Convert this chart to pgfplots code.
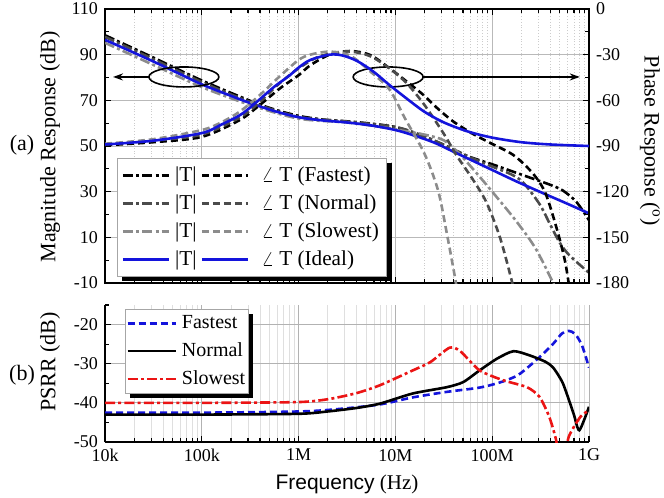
\documentclass[border=0pt]{standalone}
\usepackage{pgfplots}
\pgfplotsset{compat=1.18}
\usepackage{fontspec}
\setmainfont{Liberation Serif}
\newfontfamily\sansfam{Liberation Sans}
\usetikzlibrary{arrows.meta}
\definecolor{myblue}{RGB}{20,20,220}
\definecolor{dgray}{RGB}{75,75,75}
\definecolor{lgray}{RGB}{140,140,140}
\definecolor{myred}{RGB}{235,20,20}
\tikzset{
  dd/.style={dash pattern=on 5pt off 1.6pt on 1.5pt off 1.6pt},
  ds/.style={dash pattern=on 3.5pt off 2pt},
}
\pgfplotsset{
  legend image code/.code={\draw[#1] (0pt,0pt) -- (23pt,0pt);},
}
\begin{document}
\begin{tikzpicture}
% ---------------- top: magnitude (left axis)
\begin{axis}[
  xmode=log, xmin=1e4, xmax=1e9,
  scale only axis, width=242pt, height=137pt,
  at={(52.5pt,-141.5pt)}, anchor=south west,
  tick align=inside, major tick length=3pt, minor tick length=1.8pt,
  every tick/.style={black, line width=0.6pt},
  axis line style={line width=0.8pt},
  tick label style={font=\fontsize{9}{10}\selectfont},
  xtick={1e4,1e5,1e6,1e7,1e8,1e9},
  minor xtick={2e4,3e4,4e4,5e4,6e4,7e4,8e4,9e4,2e5,3e5,4e5,5e5,6e5,7e5,8e5,9e5,2e6,3e6,4e6,5e6,6e6,7e6,8e6,9e6,2e7,3e7,4e7,5e7,6e7,7e7,8e7,9e7,2e8,3e8,4e8,5e8,6e8,7e8,8e8,9e8},
  ymin=-10, ymax=110,
  xticklabels={},
  ytick={-10,10,30,50,70,90,110}, minor ytick={0,20,40,60,80,100},
  ytick pos=left,
  xmajorgrids, ymajorgrids, xminorgrids,
  major grid style={gray!55, line width=0.5pt},
  minor grid style={gray!40, line width=0.4pt, densely dotted},
  /pgf/number format/assume math mode=true,
]
\addplot[black, line width=1.3pt, dd, smooth, tension=0.5] coordinates {
(1e4,98.5) (3.162e4,88.7) (1e5,78.7) (3.162e5,69.8) (5.623e5,66) (1e6,63.2) (1.778e6,61.6) (3.162e6,60.8) (5.623e6,59.8) (1e7,58.3) (1.778e7,55) (3.162e7,50.5) (5.623e7,45.5) (1e8,42) (1.585e8,39) (2.512e8,36) (3.981e8,33) (5.370e8,30.5) (7.413e8,25.5) (1e9,17.5)};
\addplot[dgray, line width=1.3pt, dd, smooth, tension=0.5] coordinates {
(1e4,97.8) (3.162e4,88) (1e5,78) (3.162e5,69.3) (1e6,62.8) (3.162e6,60.7) (1e7,58.3) (1.778e7,55) (3.162e7,50.5) (5.623e7,45.5) (1e8,41) (1.585e8,37.5) (2.089e8,34) (3.090e8,24.5) (3.981e8,15.5) (5.012e8,7.5) (6.310e8,2) (1e9,-5.5)};
\addplot[lgray, line width=1.3pt, dd, smooth, tension=0.5] coordinates {
(1e4,95.2) (3.162e4,85.5) (1e5,75.8) (3.162e5,68) (1e6,62) (3.162e6,60.3) (7.943e6,58) (1.259e7,56.5) (1.995e7,55) (3.162e7,52.5) (4.467e7,47) (6.310e7,40) (1e8,30) (1.778e8,17) (2.818e8,5) (4.266e8,-10) (4.467e8,-12)};
\addplot[myblue, line width=1.3pt, smooth, tension=0.5] coordinates {
(1e4,96.5) (1.778e4,91.8) (3.162e4,87) (5.623e4,82) (1e5,77) (1.778e5,72.8) (3.162e5,68.8) (5.623e5,65.3) (1e6,62.6) (1.778e6,61.2) (3.162e6,60.3) (5.623e6,59) (1e7,57) (1.585e7,54.5) (2.512e7,51.5) (3.981e7,47.5) (6.310e7,43.5) (1e8,39.5) (1.778e8,34.5) (3.162e8,29.8) (5.623e8,25.2) (1e9,20.5)};
% annotations
\draw[line width=0.8pt] (rel axis cs:0.163,0.752) circle [x radius=17.5pt, y radius=5pt];
\draw[line width=0.8pt, -{Stealth[length=5pt,width=3.5pt]}] (rel axis cs:0.091,0.752) -- (rel axis cs:0.0165,0.752);
\draw[line width=0.8pt] (rel axis cs:0.585,0.752) circle [x radius=17.5pt, y radius=5pt];
\draw[line width=0.8pt, -{Stealth[length=5pt,width=3.5pt]}] (rel axis cs:0.657,0.752) -- (rel axis cs:0.981,0.752);
\end{axis}
% ---------------- top: phase (right axis)
\begin{axis}[
  xmode=log, xmin=1e4, xmax=1e9,
  scale only axis, width=242pt, height=137pt,
  at={(52.5pt,-141.5pt)}, anchor=south west,
  tick align=inside, major tick length=3pt, minor tick length=1.8pt,
  every tick/.style={black, line width=0.6pt},
  axis line style={line width=0.8pt},
  tick label style={font=\fontsize{9}{10}\selectfont},
  ymin=-180, ymax=0,
  axis x line=none, axis y line*=right,
  ytick={-180,-150,-120,-90,-60,-30,0}, minor ytick={-165,-135,-105,-75,-45,-15},
  legend columns=2,
  legend cell align=left,
  legend style={at={(0.025,0.456)}, anchor=north west, name=legA,
    draw=gray!70, line width=0.5pt, fill=white,
    font=\fontsize{10.6}{11}\selectfont,
    inner xsep=2pt, inner ysep=2pt, row sep=1.2pt,
    /tikz/every odd column/.append style={column sep=0.5pt},
    /tikz/every even column/.append style={column sep=0pt}},
  /pgf/number format/assume math mode=true,
]
\addplot[forget plot, black, line width=1.3pt, ds, smooth, tension=0.5] coordinates {
(1e4,-89.5) (3.162e4,-87.5) (1e5,-84) (2.455e5,-73) (3.981e5,-63) (6.457e5,-52) (1e6,-43.5) (1.318e6,-37) (2.089e6,-30) (3.388e6,-27.6) (5.495e6,-30.2) (8.710e6,-39) (1.318e7,-47.8) (1.950e7,-56.5) (2.692e7,-65) (3.981e7,-74) (6.310e7,-82) (9.550e7,-88) (1.660e8,-96) (2.630e8,-108) (3.548e8,-121) (4.677e8,-145) (5.623e8,-165) (6.166e8,-180) (6.310e8,-185)};
\addplot[forget plot, dgray, line width=1.3pt, ds, smooth, tension=0.5] coordinates {
(1e4,-89) (3.162e4,-86.5) (1e5,-82.5) (2.512e5,-71) (3.981e5,-61) (6.310e5,-49) (1e6,-39) (1.585e6,-31.5) (2.512e6,-28.5) (3.548e6,-28) (5.495e6,-31) (8.710e6,-39) (1.318e7,-49) (1.995e7,-63) (3.162e7,-82) (4.266e7,-96) (6.310e7,-112) (8.710e7,-127) (1.202e8,-150) (1.585e8,-178) (1.660e8,-184)};
\addplot[forget plot, lgray, line width=1.3pt, ds, smooth, tension=0.5] coordinates {
(1e4,-88.5) (3.162e4,-85.5) (1e5,-79.5) (1.585e5,-74.5) (2.455e5,-67.5) (3.981e5,-56.5) (6.310e5,-44.5) (1e6,-33.5) (1.318e6,-30) (2.089e6,-28) (3.388e6,-30.5) (5.495e6,-41) (8.710e6,-53) (1.259e7,-72) (1.995e7,-95) (2.754e7,-119) (3.388e7,-147) (4.169e7,-178) (4.266e7,-184)};
\addplot[forget plot, myblue, line width=1.3pt, smooth, tension=0.5] coordinates {
(1e4,-89) (3.162e4,-86.5) (1e5,-81.5) (1.585e5,-76) (2.512e5,-69.5) (3.548e5,-62) (5.623e5,-51) (7.943e5,-44) (1e6,-38.5) (1.318e6,-33.5) (2.089e6,-30) (2.818e6,-30.5) (3.981e6,-34) (5.888e6,-41) (8.710e6,-50) (1.318e7,-59) (1.995e7,-67.5) (3.162e7,-74.5) (5.623e7,-80.5) (1e8,-84.5) (1.995e8,-87.5) (3.981e8,-89) (1e9,-90)};
\addlegendimage{black, line width=1.3pt, dd}
\addlegendentry{|T|}
\addlegendimage{black, line width=1.3pt, ds}
\addlegendentry{\,\,$\angle$ T (Fastest)}
\addlegendimage{dgray, line width=1.3pt, dd}
\addlegendentry{|T|}
\addlegendimage{dgray, line width=1.3pt, ds}
\addlegendentry{\,\,$\angle$ T (Normal)}
\addlegendimage{lgray, line width=1.3pt, dd}
\addlegendentry{|T|}
\addlegendimage{lgray, line width=1.3pt, ds}
\addlegendentry{\,\,$\angle$ T (Slowest)}
\addlegendimage{myblue, line width=1.3pt}
\addlegendentry{|T|}
\addlegendimage{myblue, line width=1.3pt}
\addlegendentry{\,\,$\angle$ T (Ideal)}
\end{axis}
\draw[black, line width=2.2pt] ([xshift=2.5pt,yshift=-1.1pt]legA.south west) -- ([xshift=1.1pt,yshift=-1.1pt]legA.south east) -- ([xshift=1.1pt,yshift=-2.5pt]legA.north east);
% ---------------- bottom: PSRR
\begin{axis}[
  xmode=log, xmin=1e4, xmax=1e9,
  scale only axis, width=242pt, height=68.5pt,
  at={(52.5pt,-221pt)}, anchor=south west,
  tick align=inside, major tick length=3pt, minor tick length=1.8pt,
  every tick/.style={black, line width=0.6pt},
  axis line style={line width=0.8pt},
  tick label style={font=\fontsize{9}{10}\selectfont},
  xtick={1e4,1e5,1e6,1e7,1e8,1e9},
  minor xtick={2e4,3e4,4e4,5e4,6e4,7e4,8e4,9e4,2e5,3e5,4e5,5e5,6e5,7e5,8e5,9e5,2e6,3e6,4e6,5e6,6e6,7e6,8e6,9e6,2e7,3e7,4e7,5e7,6e7,7e7,8e7,9e7,2e8,3e8,4e8,5e8,6e8,7e8,8e8,9e8},
  ymin=-50, ymax=-15,
  axis x line*=bottom, axis y line*=left,
  xticklabels={10k,100k,1M,10M,100M,1G},
  ytick={-50,-40,-30,-20}, minor ytick={-45,-35,-25,-15},
  xmajorgrids, ymajorgrids, xminorgrids,
  major grid style={gray!60, line width=0.5pt},
  minor grid style={gray!25, line width=0.4pt},
  legend cell align=left,
  legend style={at={(0.041,0.97)}, anchor=north west, name=legB,
    draw=gray!70, line width=0.5pt, fill=white,
    font=\fontsize{10}{11}\selectfont,
    inner xsep=0.5pt, inner ysep=1pt, row sep=1.5pt,
    /tikz/every odd column/.append style={column sep=1.5pt},
    nodes={inner xsep=1pt}},
  legend image code/.code={\draw[#1] (0pt,0pt) -- (24pt,0pt);},
  /pgf/number format/assume math mode=true,
]
\addplot[myblue, line width=1.3pt, ds, smooth, tension=0.5] coordinates {
(1e4,-42.5) (1e5,-42.5) (1e6,-42.2) (2.512e6,-41.6) (6.918e6,-40.4) (1.514e7,-38.6) (3.388e7,-37.2) (7.413e7,-36.1) (1.122e8,-35) (1.479e8,-34) (1.950e8,-32.5) (3.090e8,-28.3) (4.266e8,-24.9) (5.248e8,-22.3) (6.166e8,-21.6) (7.244e8,-22.5) (8.511e8,-25.5) (1e9,-31)};
\addlegendentry{Fastest}
\addplot[black, line width=1.3pt, smooth, tension=0.4] coordinates {
(1e4,-43) (1e5,-43) (1e6,-42.8) (1.995e6,-42.2) (3.981e6,-41.3) (6.918e6,-40.2) (1.514e7,-37.6) (3.388e7,-36) (5.012e7,-34.7) (7.413e7,-31.7) (1.122e8,-28.7) (1.660e8,-26.8) (2.455e8,-27.9) (3.548e8,-29.5) (4.266e8,-31) (5.370e8,-35) (6.918e8,-42.7) (7.943e8,-47) (1e9,-41)};
\addlegendentry{Normal}
\addplot[myred, line width=1.3pt, dd, smooth, tension=0.4] coordinates {
(1e4,-40) (1e5,-40) (1e6,-39.8) (2.089e6,-39) (3.981e6,-37.5) (6.918e6,-35.5) (1.514e7,-31.7) (2.291e7,-29.6) (3.631e7,-25.9) (4.677e7,-26.8) (7.413e7,-31.7) (1.288e8,-34.2) (2.291e8,-36) (3.090e8,-38.5) (3.890e8,-43.6) (4.571e8,-49.5) (5.012e8,-56) (5.623e8,-55) (6.166e8,-48.7) (8.128e8,-43.6) (1e9,-41.9)};
\addlegendentry{Slowest}
\end{axis}
\draw[black, line width=2.2pt] ([xshift=2.5pt,yshift=-1.1pt]legB.south west) -- ([xshift=1.1pt,yshift=-1.1pt]legB.south east) -- ([xshift=1.1pt,yshift=-2.5pt]legB.north east);
% ---------------- labels
\node[font=\fontsize{11}{12}\selectfont] at (11pt,-72.5pt) {(a)};
\node[font=\fontsize{11}{12}\selectfont, rotate=90] at (25pt,-73.5pt) {Magnitude Response (dB)};
\node[font=\fontsize{11}{12}\selectfont, rotate=-90] at (325pt,-70.5pt) {Phase Response (\textsuperscript{o})};
\node[font=\fontsize{11}{12}\selectfont] at (11pt,-187.5pt) {(b)};
\node[font=\fontsize{11}{12}\selectfont, rotate=90] at (25pt,-181pt) {PSRR (dB)};
\node[font=\fontsize{10.5}{12}\selectfont] at (173.5pt,-242pt) {{\sansfam Frequency} (Hz)};
\pgfresetboundingbox
\path[use as bounding box] (0pt,0pt) rectangle (332pt,-249pt);
\end{tikzpicture}
\end{document}
